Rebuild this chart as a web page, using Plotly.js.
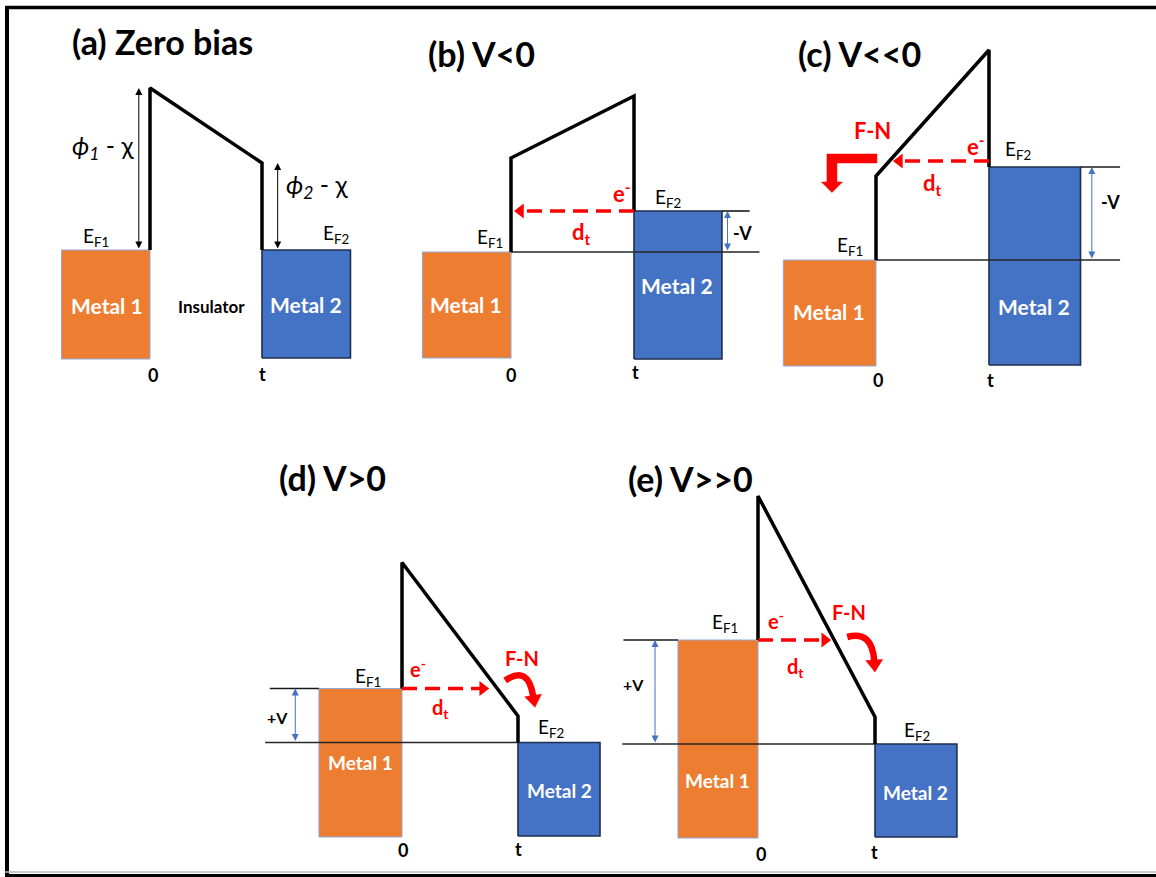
<!DOCTYPE html>
<html>
<head>
<meta charset="utf-8">
<script src="https://cdn.plot.ly/plotly-3.0.1.min.js"></script>
<style>
  html, body { margin: 0; padding: 0; background: #ffffff; }
  #chart { width: 1156px; height: 877px; }
</style>
</head>
<body>
<div id="chart"></div>
<script>
// Energy-band diagrams of a metal / insulator / metal junction under different bias.
// Energies are in arbitrary units, 0 = the lower Fermi level of each panel.
const panelTitles   = ['(a) Zero bias', '(b) V<0', '(c) V<<0', '(d) V>0', '(e) V>>0'];
const fermiLevel1   = [0, 0, 0, 5.4, 10.4];        // E_F1 (metal 1)
const fermiLevel2   = [0, 4.1, 9.3, 0, 0];         // E_F2 (metal 2)
const barrierAt0    = [16.2, 9.4, 8.4, 18.0, 24.8]; // barrier edge at x = 0
const barrierAtT    = [8.7, 15.6, 21.0, 2.65, 2.7]; // barrier edge at x = t
const tunnelLevel   = [null, 4.1, 9.9, 5.4, 10.4];  // energy of the tunnelling electron
const biasLabels    = ['', '-V', '-V', '+V', '+V'];
const metalLabels   = ['Metal 1', 'Metal 2'];
const positionTicks = ['0', 't'];
const hasFN         = [false, false, true, true, true];

// ---- drawing geometry (pixels) ----
const W = 1156, H = 877, EPX = 10;   // EPX: pixels per energy unit
const FONT = 'Lato, "Open Sans", "DejaVu Sans", sans-serif';
const ORANGE = '#ED7D31', BLUE = '#4472C4', RED = '#FF0000';

const frame = [
  {x0: 150, t: 112, y0: 250,   m1: -0.79,  m2: 1.79,  bot1: -10.9, bot2: -10.8, ref: null,          ext: null,             vu: null,  gap: 0},
  {x0: 511, t: 123, y0: 252,   m1: -0.72,  m2: 1.715, bot1: -10.6, bot2: -10.7, ref: [0, 2.02],     ext: [1.715, 1.94, 2], vu: 1.76,  gap: 2},
  {x0: 876, t: 113, y0: 260,   m1: -0.82,  m2: 1.81,  bot1: -10.6, bot2: -10.5, ref: [0, 2.16],     ext: [1.81, 2.16, 2],  vu: 1.91,  gap: 2.5},
  {x0: 402, t: 116, y0: 742.5, m1: -0.716, m2: 1.707, bot1: -9.45, bot2: -9.35, ref: [-1.18, 1],    ext: [-1.14, -0.716, 1], vu: -0.92, gap: 7},
  {x0: 758, t: 117, y0: 744,   m1: -0.684, m2: 1.70,  bot1: -9.4,  bot2: -9.3,  ref: [-1.16, 1],    ext: [-1.15, -0.684, 1], vu: -0.88, gap: 2}
];

// text placement (pixel centres)
const textPos = {
  title:  [[162, 41], [481, 53], [859, 53], [333, 477], [690, 478]],
  ef1:    [[96, 237], [490, 238], [850, 246], [368, 677], [725, 623]],
  ef2:    [[336, 234], [668, 198], [1018, 150], [551, 728], [917, 731]],
  metal1: [[107, 305], [466, 304], [829, 312], [360, 762], [717, 780]],
  metal2: [[306, 304], [677, 285], [1034, 307], [559, 790], [915, 792]],
  zero:   [[153, 375], [511, 375], [878, 380], [403, 850], [761, 854]],
  tee:    [[262, 374], [635, 372], [990, 380], [518, 849], [874, 852]],
  elec:   [null, [622, 193], [976, 145], [418, 668], [776, 620]],
  dt:     [null, [581, 233], [932, 184], [440, 708], [795, 667]],
  fn:     [null, null, [872, 131], [522, 658], [849, 612]],
  bias:   [null, [742, 233], [1110, 202], [277, 717], [633, 684]]
};
const metalFont = [21, 21, 21, 19, 19];
const redFont   = [22, 22, 22, 20, 20];

const axId = i => (i === 0 ? '' : String(i + 1));
const toPxX = (i, u) => frame[i].x0 + u * frame[i].t;
const toPxY = (i, e) => frame[i].y0 - e * EPX;
const toU = (i, px) => (px - frame[i].x0) / frame[i].t;
const toE = (i, py) => (frame[i].y0 - py) / EPX;
const paperX = x => x / W, paperY = y => 1 - y / H;

const traces = [];
const annotations = [];
const shapes = [];
const layout = {
  width: W, height: H,
  margin: {l: 0, r: 0, t: 0, b: 0},
  paper_bgcolor: '#ffffff', plot_bgcolor: 'rgba(0,0,0,0)',
  showlegend: false, hovermode: false
};

function label(pos, txt, size, color, bold) {
  if (!pos) return;
  annotations.push({
    xref: 'paper', yref: 'paper', x: paperX(pos[0]), y: paperY(pos[1]),
    xanchor: 'center', yanchor: 'middle', showarrow: false,
    text: bold ? '<b>' + txt + '</b>' : txt,
    font: {family: FONT, size: size, color: color}
  });
}

function doubleArrow(i, u, e0, e1, color) {
  const a = axId(i);
  annotations.push({
    xref: 'x' + a, yref: 'y' + a, axref: 'x' + a, ayref: 'y' + a,
    x: u, y: e1, ax: u, ay: e0, text: '', showarrow: true,
    arrowside: 'end+start', arrowhead: 2, startarrowhead: 2,
    arrowsize: 1.4, startarrowsize: 1.4, arrowwidth: 1, arrowcolor: color,
    standoff: 0, startstandoff: 0
  });
}

for (let i = 0; i < 5; i++) {
  const f = frame[i], a = axId(i);
  const xa = 'x' + a, ya = 'y' + a;
  layout['xaxis' + a] = {
    range: [toU(i, 0), toU(i, W)], domain: [0, 1], visible: false, fixedrange: true,
    ...(i ? {overlaying: 'x'} : {})
  };
  layout['yaxis' + a] = {
    range: [toE(i, H), toE(i, 0)], domain: [0, 1], visible: false, fixedrange: true,
    ...(i ? {overlaying: 'y'} : {})
  };
  const ef1 = fermiLevel1[i], ef2 = fermiLevel2[i];

  // metal blocks, filled up to their Fermi levels
  traces.push({
    type: 'scatter', mode: 'lines', xaxis: xa, yaxis: ya, hoverinfo: 'skip',
    x: [f.m1, 0, 0, f.m1, f.m1], y: [f.bot1, f.bot1, ef1, ef1, f.bot1],
    fill: 'toself', fillcolor: ORANGE, line: {color: '#8FA8D8', width: 1}
  });
  traces.push({
    type: 'scatter', mode: 'lines', xaxis: xa, yaxis: ya, hoverinfo: 'skip',
    x: [1, f.m2, f.m2, 1, 1], y: [f.bot2, f.bot2, ef2, ef2, f.bot2],
    fill: 'toself', fillcolor: BLUE, line: {color: '#1F2F4F', width: 1.6}
  });

  // reference level and Fermi level extension
  if (f.ref) {
    traces.push({
      type: 'scatter', mode: 'lines', xaxis: xa, yaxis: ya, hoverinfo: 'skip',
      x: f.ref, y: [0, 0], line: {color: '#262626', width: 1.3}
    });
  }
  if (f.ext) {
    const eLvl = f.ext[2] === 2 ? ef2 : ef1;
    traces.push({
      type: 'scatter', mode: 'lines', xaxis: xa, yaxis: ya, hoverinfo: 'skip',
      x: [f.ext[0], f.ext[1]], y: [eLvl, eLvl], line: {color: '#1a1a1a', width: 1.6}
    });
  }

  // insulator barrier
  traces.push({
    type: 'scatter', mode: 'lines', xaxis: xa, yaxis: ya, hoverinfo: 'skip',
    x: [0, 0, 1, 1], y: [ef1, barrierAt0[i], barrierAtT[i], ef2],
    line: {color: '#000000', width: 3.5}
  });

  // tunnelling path (red dashed arrow)
  if (tunnelLevel[i] !== null) {
    const e = tunnelLevel[i];
    let uc = (e - barrierAt0[i]) / (barrierAtT[i] - barrierAt0[i]);
    uc = Math.max(0, Math.min(1, uc));
    const leftward = ef2 > ef1;
    const dir = leftward ? -1 : 1;
    const tipPx = toPxX(i, uc) - dir * f.gap;
    const startPx = leftward ? toPxX(i, 1) : toPxX(i, 0);
    const r = 6.5, rt = r * 2 / Math.sqrt(3);
    traces.push({
      type: 'scatter', mode: 'lines', xaxis: xa, yaxis: ya, hoverinfo: 'skip',
      x: [toU(i, startPx), toU(i, tipPx - dir * 9)], y: [e, e],
      line: {color: RED, width: 3.5, dash: '15px,8px'}
    });
    traces.push({
      type: 'scatter', mode: 'markers', xaxis: xa, yaxis: ya, hoverinfo: 'skip',
      x: [toU(i, tipPx - dir * rt)], y: [e],
      marker: {symbol: leftward ? 'triangle-left' : 'triangle-right', size: 2 * r, color: RED, line: {width: 0}}
    });

    // Fowler–Nordheim arrows, drawn around the crossing point
    if (hasFN[i]) {
      const cx = toPxX(i, (e - barrierAt0[i]) / (barrierAtT[i] - barrierAt0[i]));
      const cy = toPxY(i, e);
      if (leftward) {
        const off = [[-12.5, -7], [-62.5, -7], [-62.5, 21], [-68, 21], [-57.5, 31.5], [-47, 21],
                     [-52.5, 21], [-52.5, 2], [-12.5, 2], [-12.5, -7]];
        traces.push({
          type: 'scatter', mode: 'lines', xaxis: xa, yaxis: ya, hoverinfo: 'skip',
          x: off.map(p => toU(i, cx + p[0])), y: off.map(p => toE(i, cy + p[1])),
          fill: 'toself', fillcolor: RED, line: {color: RED, width: 0.5}
        });
      } else {
        const curve = i === 3
          ? {s: [8, -8], c: [31, -24], e: [36, 8]}
          : {s: [13, -3], c: [38, -10], e: [40, 21]};
        const S = [cx + curve.s[0], cy + curve.s[1]];
        const C = [cx + curve.c[0], cy + curve.c[1]];
        const E = [cx + curve.e[0], cy + curve.e[1]];
        shapes.push({
          type: 'path', xref: 'paper', yref: 'paper',
          path: `M${paperX(S[0])},${paperY(S[1])} Q${paperX(C[0])},${paperY(C[1])} ${paperX(E[0])},${paperY(E[1])}`,
          line: {color: RED, width: 6.5}
        });
        const dx = E[0] - C[0], dy = E[1] - C[1], n = Math.hypot(dx, dy);
        const d = [dx / n, dy / n], p = [-d[1], d[0]];
        const tip = [E[0] + 11 * d[0], E[1] + 11 * d[1]];
        const b1 = [E[0] + 8.5 * p[0] - d[0], E[1] + 8.5 * p[1] - d[1]];
        const b2 = [E[0] - 8.5 * p[0] - d[0], E[1] - 8.5 * p[1] - d[1]];
        shapes.push({
          type: 'path', xref: 'paper', yref: 'paper',
          path: `M${paperX(tip[0])},${paperY(tip[1])} L${paperX(b1[0])},${paperY(b1[1])} L${paperX(b2[0])},${paperY(b2[1])} Z`,
          fillcolor: RED, line: {color: RED, width: 0.5}
        });
      }
    }
  }

  // bias arrows and barrier-height arrows
  if (i === 0) {
    doubleArrow(i, -0.1, 0, barrierAt0[i], '#000000');
    doubleArrow(i, 1.14, 0, barrierAtT[i], '#000000');
  } else {
    const top = Math.max(ef1, ef2);
    doubleArrow(i, f.vu, 0, top, BLUE);
  }

  // text
  label(textPos.title[i], panelTitles[i], 34, '#000000', true);
  label(textPos.ef1[i], 'E<sub>F1</sub>', 19, '#000000', false);
  label(textPos.ef2[i], 'E<sub>F2</sub>', 19, '#000000', false);
  label(textPos.metal1[i], metalLabels[0], metalFont[i], '#ffffff', true);
  label(textPos.metal2[i], metalLabels[1], metalFont[i], '#ffffff', true);
  label(textPos.zero[i], positionTicks[0], 18, '#000000', true);
  label(textPos.tee[i], positionTicks[1], 18, '#000000', true);
  label(textPos.elec[i], 'e<sup>-</sup>', redFont[i], RED, true);
  label(textPos.dt[i], 'd<sub>t</sub>', redFont[i], RED, true);
  label(textPos.fn[i], 'F-N', redFont[i], RED, true);
  label(textPos.bias[i], biasLabels[i], i < 3 ? 18 : 16, '#000000', true);
}

label([211, 306], 'Insulator', 17, '#000000', true);
label([103, 147], '<i>ϕ<sub>1</sub></i> - χ', 25, '#000000', false);
label([317, 186], '<i>ϕ<sub>2</sub></i> - χ', 25, '#000000', false);

// outer frame
shapes.push({type: 'line', xref: 'paper', yref: 'paper', x0: paperX(5), x1: 1, y0: paperY(7.5), y1: paperY(7.5), line: {color: '#000', width: 3.5}});
shapes.push({type: 'line', xref: 'paper', yref: 'paper', x0: paperX(7), x1: paperX(7), y0: paperY(6), y1: 0, line: {color: '#000', width: 4}});
shapes.push({type: 'line', xref: 'paper', yref: 'paper', x0: paperX(5), x1: 1, y0: paperY(872), y1: paperY(872), line: {color: '#b8b8b8', width: 1.5}});
shapes.push({type: 'line', xref: 'paper', yref: 'paper', x0: paperX(5), x1: 1, y0: paperY(875.5), y1: paperY(875.5), line: {color: '#000', width: 3}});

layout.annotations = annotations;
layout.shapes = shapes;

Plotly.newPlot('chart', traces, layout, {staticPlot: true, displayModeBar: false});
</script>
</body>
</html>
